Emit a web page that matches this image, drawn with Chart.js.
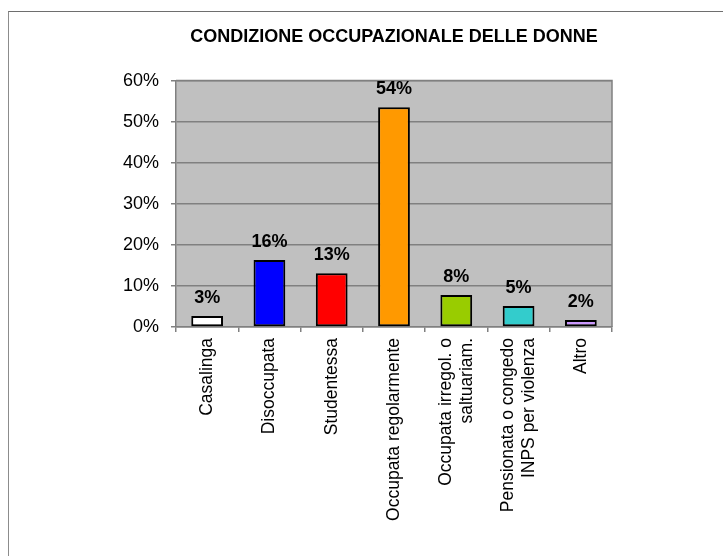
<!DOCTYPE html>
<html>
<head>
<meta charset="utf-8">
<script src="https://cdn.jsdelivr.net/npm/chart.js@4.4.1/dist/chart.umd.min.js"></script>
<style>
  html, body { margin: 0; padding: 0; background: #fff; }
  #wrap { position: relative; width: 723px; height: 556px; overflow: hidden; }
  #frame {
    position: absolute; left: 8px; top: 11px; width: 800px; height: 600px;
    border-left: 1px solid #8c8c8c; border-top: 1px solid #6e6e6e;
  }
  #myChart { position: absolute; left: 0; top: 0; }
</style>
</head>
<body>
<div id="wrap">
  <div id="frame"></div>
  <canvas id="myChart" width="723" height="556"></canvas>
</div>
<script>
const titleText = "CONDIZIONE OCCUPAZIONALE DELLE DONNE";
const categories = [
  ["Casalinga"],
  ["Disoccupata"],
  ["Studentessa"],
  ["Occupata regolarmente"],
  ["Occupata irregol. o", "saltuariam."],
  ["Pensionata o congedo", "INPS per violenza"],
  ["Altro"],
];
const values = [2.7, 16.3, 13.1, 53.5, 7.8, 5.1, 1.7];
const barColors = ["#FFFFFF", "#0000FF", "#FF0000", "#FF9900", "#99CC00", "#33CCCC", "#CC99FF"];
const yTicks = [0, 10, 20, 30, 40, 50, 60];

const FONT = "'Liberation Sans', Arial, sans-serif";
const GRID = "#808080";

// grey plot background + right/top edge
const plotArea = {
  id: "plotArea",
  beforeDraw(chart) {
    const { ctx, chartArea } = chart;
    ctx.save();
    ctx.fillStyle = "#C0C0C0";
    ctx.fillRect(chartArea.left, chartArea.top, chartArea.right - chartArea.left, chartArea.bottom - chartArea.top);
    ctx.restore();
  },
  afterDatasetsDraw(chart) {
    const { ctx, chartArea } = chart;
    ctx.save();
    ctx.strokeStyle = GRID;
    ctx.lineWidth = 1.5;
    ctx.beginPath();
    ctx.moveTo(chartArea.left, chartArea.top);
    ctx.lineTo(chartArea.right, chartArea.top);
    ctx.lineTo(chartArea.right, chartArea.bottom);
    ctx.stroke();
    ctx.restore();
  },
};

// percent labels above bars
const valueLabels = {
  id: "valueLabels",
  afterDatasetsDraw(chart) {
    const { ctx } = chart;
    const meta = chart.getDatasetMeta(0);
    ctx.save();
    ctx.font = "bold 18px " + FONT;
    ctx.fillStyle = "#000";
    ctx.textAlign = "center";
    ctx.textBaseline = "alphabetic";
    meta.data.forEach((bar, i) => {
      ctx.fillText(Math.round(values[i]) + "%", bar.x, bar.y - 13);
    });
    ctx.restore();
  },
};

// rotated category labels, multi-line groups centred on the bar
const xLabels = {
  id: "xLabels",
  afterDraw(chart) {
    const { ctx } = chart;
    const xScale = chart.scales.x;
    const lh = 21;
    ctx.save();
    ctx.font = "17.5px " + FONT;
    ctx.fillStyle = "#000";
    ctx.textAlign = "right";
    ctx.textBaseline = "middle";
    categories.forEach((lines, i) => {
      const cx = xScale.getPixelForValue(i);
      lines.forEach((line, j) => {
        const x = cx + (j - (lines.length - 1) / 2) * lh;
        ctx.save();
        ctx.translate(x, xScale.top + 11);
        ctx.rotate(-Math.PI / 2);
        ctx.fillText(line, 0, 0);
        ctx.restore();
      });
    });
    ctx.restore();
  },
};

const ctx = document.getElementById("myChart");
new Chart(ctx, {
  type: "bar",
  data: {
    labels: categories.map(c => c.join(" ")),
    datasets: [{
      data: values,
      backgroundColor: barColors,
      borderColor: "#000",
      borderWidth: 2,
      borderSkipped: false,
      barPercentage: 0.51,
      categoryPercentage: 1,
    }],
  },
  options: {
    responsive: false,
    animation: false,
    layout: { padding: { left: 0, right: 111, top: 0, bottom: 0 } },
    scales: {
      x: {
        offset: true,
        grid: {
          offset: true,
          drawOnChartArea: false,
          drawTicks: true,
          tickLength: 5,
          color: GRID,
          lineWidth: 1.5,
        },
        border: { display: true, color: GRID, width: 1.5 },
        ticks: { display: false },
        afterFit(scale) { scale.height = 556 - 327; },
      },
      y: {
        min: 0,
        max: 60,
        afterBuildTicks(scale) { scale.ticks = yTicks.map(v => ({ value: v })); },
        grid: { color: GRID, lineWidth: 1.5, tickLength: 5 },
        border: { display: true, color: GRID, width: 1.5 },
        ticks: {
          padding: 12,
          color: "#000",
          font: { family: FONT, size: 18 },
          callback: v => v + "%",
        },
        afterFit(scale) { scale.width = 176; },
      },
    },
    plugins: {
      legend: { display: false },
      tooltip: { enabled: false },
      title: {
        display: true,
        text: titleText,
        fullSize: false,
        color: "#000",
        font: { family: FONT, size: 18, weight: "bold", lineHeight: 1.2 },
        padding: { top: 26, bottom: 33 },
      },
    },
  },
  plugins: [plotArea, valueLabels, xLabels],
});
</script>
</body>
</html>
